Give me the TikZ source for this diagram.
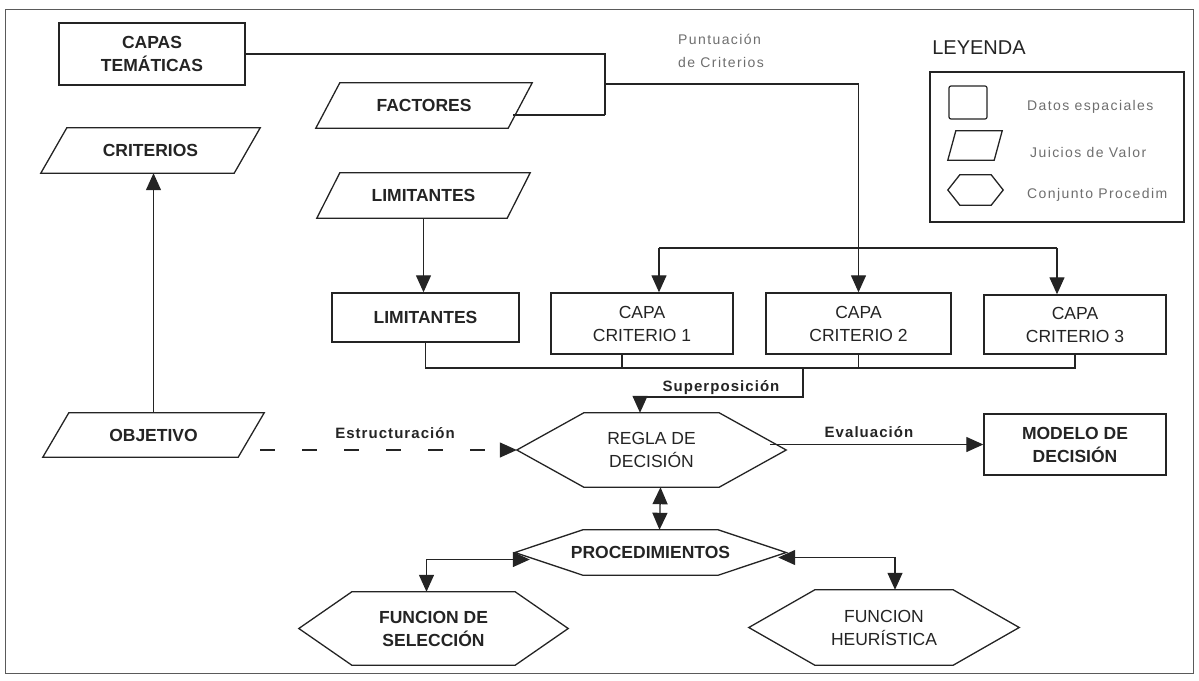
\documentclass[tikz,border=0pt]{standalone}
\usepackage{fontspec}
\setmainfont{Liberation Sans}
\usetikzlibrary{arrows.meta}
\definecolor{inkc}{HTML}{242424}
\definecolor{legc}{HTML}{6E6E6E}
\definecolor{framec}{HTML}{5A5A5A}
\newcommand\bxfont{\fontsize{17.5}{23}\selectfont}
\newcommand\lbfont{\fontsize{15}{18}\selectfont\bfseries\addfontfeature{LetterSpace=7}}
\newcommand\lgfont{\fontsize{14}{23}\selectfont\addfontfeature{LetterSpace=10}}
% slanted outline around a plain node (#2 = horizontal slant)
\newcommand\paraoutline[2]{\draw[outline] ([shift={(#2,0)}]#1.north west) -- (#1.north east) -- ([shift={(-#2,0)}]#1.south east) -- (#1.south west) -- cycle;}
% hexagonal outline around a plain node (#2 = depth of the side points)
\newcommand\hexoutline[2]{\draw[outline] ([shift={(#2,0)}]#1.north west) -- (#1.west) -- ([shift={(#2,0)}]#1.south west) -- ([shift={(-#2,0)}]#1.south east) -- (#1.east) -- ([shift={(-#2,0)}]#1.north east) -- cycle;}
\begin{document}
\begin{tikzpicture}[x=1pt,y=-1pt,
  box/.style={draw=inkc, line width=1.4pt, rectangle, inner sep=0pt, align=center, text=inkc, font=\bxfont},
  plain/.style={rectangle, inner sep=0pt, align=center, text=inkc, font=\bxfont},
  outline/.style={draw=inkc, line width=1.3pt, line join=miter},
  conn/.style={draw=inkc, line width=1.3pt},
  tip/.tip={Triangle[length=17pt,width=15pt]},
  arr/.style={conn, -tip},
  dbl/.style={conn, tip-tip},
  lab/.style={font=\lbfont, text=inkc, inner sep=1pt},
  legt/.style={font=\lgfont, text=legc, inner sep=0pt, align=left}]
\useasboundingbox (0,0) rectangle (1199,680);
\draw[framec, line width=1pt] (5,9) rectangle (1193,673);

% data layers and value judgements
\node[box, font=\bxfont\bfseries, minimum width=186pt, minimum height=62pt] (capas) at (152,54) {CAPAS\\TEMÁTICAS};
\node[plain, font=\bxfont\bfseries, minimum width=216pt, minimum height=45pt] (fact) at (424,105.5) {FACTORES};
\paraoutline{fact}{24}
\node[plain, font=\bxfont\bfseries, minimum width=219pt, minimum height=45pt] (crit) at (150.5,150.5) {CRITERIOS};
\paraoutline{crit}{26}
\node[plain, font=\bxfont\bfseries, minimum width=213pt, minimum height=45pt] (limp) at (423.5,195.5) {LIMITANTES};
\paraoutline{limp}{23}
\node[plain, font=\bxfont\bfseries, minimum width=221pt, minimum height=44pt] (obj) at (153.5,435) {OBJETIVO};
\paraoutline{obj}{26}

\node[box, font=\bxfont\bfseries, minimum width=187pt, minimum height=49pt] (limb) at (425.5,317.5) {LIMITANTES};
\node[box, minimum width=182pt, minimum height=61pt] (cc1) at (642,323.5) {CAPA\\CRITERIO 1};
\node[box, minimum width=185pt, minimum height=61pt] (cc2) at (858.5,323.5) {CAPA\\CRITERIO 2};
\node[box, minimum width=182pt, minimum height=59pt] (cc3) at (1075,324.5) {CAPA\\CRITERIO 3};
\node[box, font=\bxfont\bfseries, minimum width=182pt, minimum height=61pt] (modelo) at (1075,444.5) {MODELO DE\\DECISIÓN};

% procedures
\node[plain, minimum width=269pt, minimum height=74pt] (regla) at (651.5,450) {REGLA DE\\DECISIÓN};
\hexoutline{regla}{67}
\node[plain, font=\bxfont\bfseries, minimum width=271pt, minimum height=45pt] (proc) at (650.5,552.5) {PROCEDIMIENTOS};
\hexoutline{proc}{68}
\node[plain, font=\bxfont\bfseries, minimum width=269pt, minimum height=73pt] (fsel) at (433.5,628.5) {FUNCION DE\\SELECCIÓN};
\hexoutline{fsel}{53}
\node[plain, minimum width=270pt, minimum height=75pt] (fheur) at (884,627.5) {FUNCION\\HEURÍSTICA};
\hexoutline{fheur}{66}

% scoring of criteria
\coordinate (bendB) at (605,115);
\coordinate (bendM) at (605,84);
\coordinate (factR) at ([shift={(-19,9.5)}]fact.east);
\draw[conn] (capas.east) -| (bendB);
\draw[conn] (factR) -- (bendB);
\draw[arr] (bendM) -| (cc2.north);
\node[legt] (punt) at (721,51) {Puntuación\\de Criterios};
\coordinate (forkL) at (659,248);
\coordinate (forkR) at (1057,248);
\draw[conn] (forkL) -- (forkR);
\draw[arr] (forkL) -- (forkL |- cc1.north);
\draw[arr] (forkR) -- (forkR |- cc3.north);

\draw[arr] (limp.south) -- (limp.south |- limb.north);
\draw[arr] (obj.north) -- (obj.north |- crit.south);

% overlay of the layers
\coordinate (bus) at (803,368);
\coordinate (supR) at (803,397);
\coordinate (supL) at (640,397);
\coordinate (cc1s) at ([shift={(-20,0)}]cc1.south);
\draw[conn] (limb.south) |- (cc3.south |- bus) -- (cc3.south);
\draw[conn] (cc1s) -- (cc1s |- bus);
\draw[conn] (cc2.south) -- (cc2.south |- bus);
\draw[arr] (bus) -- (supR) -- (supL) -- (supL |- regla.north);
\node[lab] (sup) at (721,388) {Superposición};

% structuring and evaluation
\coordinate (estS) at (260,450);
\draw[conn, dash pattern=on 15pt off 27pt, -tip] (estS) -- (regla.west);
\node[lab] (estr) at (395,433) {Estructuración};
\coordinate (evS) at ([shift={(-16,0)}]regla.east);
\draw[arr] (evS |- modelo.west) -- (modelo.west);
\node[lab] (eval) at (869,432) {Evaluación};

\draw[dbl] ([shift={(9,0)}]regla.south) -- ([shift={(9,0)}]proc.north);
\coordinate (pL) at ([shift={(15,7)}]proc.west);
\coordinate (pR) at ([shift={(-8,5)}]proc.east);
\draw[dbl] (pL) -| ([shift={(-7,0)}]fsel.north);
\draw[dbl] (pR) -| ([shift={(11,0)}]fheur.north);

% legend
\node[text=inkc, font=\fontsize{20}{24}\selectfont, inner sep=0pt] (leg) at (979,48) {LEYENDA};
\node[draw=inkc, line width=1.2pt, minimum width=254pt, minimum height=150pt, inner sep=0pt] (legbox) at (1057,147) {};
\node[draw=inkc, line width=1.2pt, rounded corners=2pt, minimum width=38pt, minimum height=33pt, inner sep=0pt] (lsq) at (968,102.5) {};
\node[plain, minimum width=54pt, minimum height=29pt] (lpar) at (975,145.5) {};
\paraoutline{lpar}{8}
\node[plain, minimum width=55pt, minimum height=30pt] (lhex) at (975.5,190) {};
\hexoutline{lhex}{12}
\node[legt, anchor=west] (t1) at (1027,107) {Datos espaciales};
\node[legt, anchor=west] (t2) at (1030,152) {Juicios de Valor};
\node[legt, anchor=west] (t3) at (1027,195) {Conjunto Procedim};
\end{tikzpicture}
\end{document}
